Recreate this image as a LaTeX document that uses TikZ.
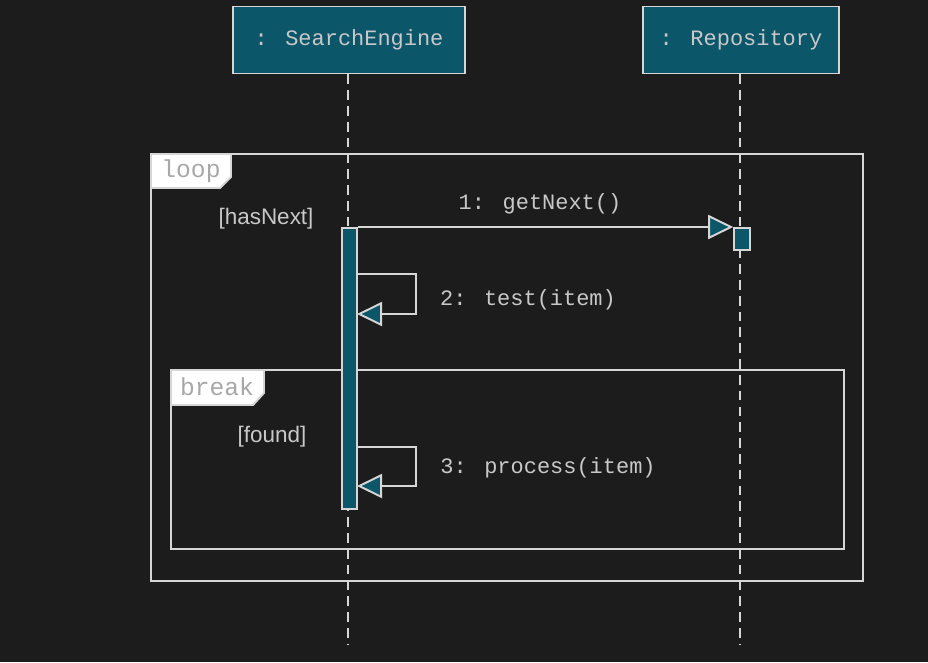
\documentclass[tikz,border=0pt]{standalone}
\usepackage{fontspec}
\setmainfont{Liberation Sans}
\newfontfamily\seqmono{Liberation Mono}
\usetikzlibrary{arrows.meta}

\definecolor{bgdark}{HTML}{1C1C1C}
\definecolor{seqteal}{HTML}{0C566A}
\definecolor{seqline}{HTML}{D6D6D6}
\definecolor{seqtext}{HTML}{C8C8C8}
\definecolor{tagtext}{HTML}{A8A8A8}

\tikzset{
  object/.style={draw=seqline, line width=1.1pt, fill=seqteal, rectangle, minimum width=4.64cm, minimum height=1.34cm, text=seqtext, font=\seqmono\fontsize{12.5}{14}\selectfont},
  lifeline/.style={draw=seqline, line width=1.1pt, dash pattern=on 5.5pt off 3.5pt},
  actbar/.style={draw=seqline, line width=0.9pt, fill=seqteal, rectangle, minimum width=0.3cm, anchor=north, inner sep=0pt},
  msg/.style={draw=seqline, line width=1.1pt, -{Triangle[length=0.5cm, width=0.48cm, fill=seqteal]}},
  msglabel/.style={text=seqtext, font=\seqmono\fontsize{12.5}{14}\selectfont},
  guard/.style={text=seqtext, font=\fontsize{12.8}{14}\selectfont},
  frame/.style={draw=seqline, line width=1.1pt},
  tag/.style={draw=seqline, line width=1.1pt, fill=white},
  taglabel/.style={text=tagtext, font=\seqmono\fontsize{14}{16}\selectfont}
}

\begin{document}
\begin{tikzpicture}[x=0.02cm, y=-0.02cm]
    % Fondo
    \fill[bgdark] (0,0) rectangle (928,662);
    \useasboundingbox (0,0) rectangle (928,662);

    % Objetos
    \node[object] (engine) at (349,40) {: SearchEngine};
    \node[object, minimum width=3.92cm] (repo) at (741,40) {: Repository};

    % Lineas de vida
    \coordinate (engineend) at (348,645);
    \coordinate (repoend) at (740,645);
    \draw[lifeline] (engine.south -| engineend) -- (engineend);
    \draw[lifeline] (repo.south -| repoend) -- (repoend);

    % Fragmento loop
    \draw[frame] (151,154) rectangle (863,581);
    \draw[tag] (151,154) -- (231,154) -- (231,177) -- (220,188) -- (151,188) -- cycle;
    \node[taglabel] (looptag) at (191,171) {loop};
    \node[guard] (hasnext) at (266,219) {[hasNext]};

    % Fragmento break
    \draw[frame] (171,370) rectangle (844,549);
    \draw[tag] (171,370) -- (264,370) -- (264,393) -- (253,405) -- (171,405) -- cycle;
    \node[taglabel] (breaktag) at (217,387) {break};
    \node[guard] (found) at (272,437) {[found]};

    % Activaciones
    \node[actbar, minimum height=5.62cm] (engineact) at (349.5,227) {};
    \node[actbar, minimum width=0.32cm, minimum height=0.44cm] (repoact) at (742,227) {};

    % Mensajes
    \draw[msg] (engineact.north east) -- (repoact.north west);
    \node[msglabel] (getnext) at (540,204) {1: getNext()};

    \coordinate (testout) at (357,274);
    \coordinate (testin) at (357,314);
    \draw[msg] (testout) -- (416,274) -- (416,314) -- (testin);
    \node[msglabel] (test) at (528,300) {2: test(item)};

    \coordinate (procout) at (357,447);
    \coordinate (procin) at (357,486);
    \draw[msg] (procout) -- (416,447) -- (416,486) -- (procin);
    \node[msglabel] (process) at (548,468) {3: process(item)};
\end{tikzpicture}
\end{document}
